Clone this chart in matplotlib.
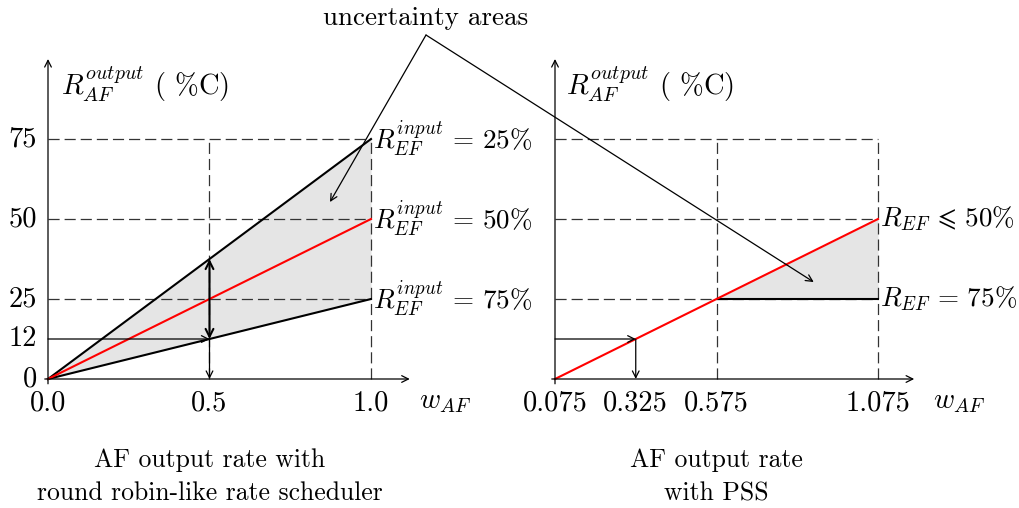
import matplotlib
matplotlib.use('Agg')
import numpy as np
import matplotlib.pyplot as plt

plt.rcParams['mathtext.fontset'] = 'cm'
plt.rcParams['font.family'] = ['cmr10', 'DejaVu Serif']
plt.rcParams['axes.unicode_minus'] = False
plt.rcParams['lines.scale_dashes'] = False

# left panel: round robin-like scheduler
left_w = [0.0, 1.0]
left_upper = [0.0, 75.0]
left_mid = [0.0, 50.0]
left_lower = [0.0, 25.0]
left_xticks = [0.0, 0.5, 1.0]
left_xlabels = ['0.0', '0.5', '1.0']
yticks = [0.0, 12.5, 25.0, 50.0, 75.0]
ylabels = ['0', '12', '25', '50', '75']
left_line_labels = [r'$R_{EF}^{input}\,=\,25\%$', r'$R_{EF}^{input}\,=\,50\%$',
                    r'$R_{EF}^{input}\,=\,75\%$']
left_mark_w = 0.5
left_mark_hi = 37.5
left_mark_lo = 12.5

# right panel: PSS
right_w = [0.075, 1.075]
right_red = [0.0, 50.0]
right_flat_w = [0.575, 1.075]
right_flat = [25.0, 25.0]
right_xticks = [0.075, 0.325, 0.575, 1.075]
right_xlabels = ['0.075', '0.325', '0.575', '1.075']
right_line_labels = [r'$R_{EF}\,\leqslant\,50\%$', r'$R_{EF}\,=\,75\%$']
right_mark_w = 0.325
right_mark_r = 12.5

FS = 20.5
LAB = 19.5
CAP = 18.5
W, H = 1020, 508
fig = plt.figure(figsize=(W / 100, H / 100), dpi=100)

px_y = 3.2      # pixels per %
px_x = 323.0    # pixels per unit of w


def make_axes(left_px, width_px, x0_px, x0_val):
    ax = fig.add_axes([left_px / W, 0, width_px / W, 1])
    ax.axis('off')
    ax.set_xlim(x0_val + (left_px - x0_px) / px_x,
                x0_val + (left_px + width_px - x0_px) / px_x)
    ax.set_ylim(-(H - 379) / px_y, 379 / px_y)
    return ax


def draw_frame(ax, xmin, xmax, ylabel_x, xlabel_x):
    arr = dict(arrowstyle='->', lw=0.9, color='k', mutation_scale=12,
               shrinkA=0, shrinkB=0)
    ax.annotate('', xy=(xmax, 0), xytext=(xmin - 0.01, 0), arrowprops=arr)
    ax.annotate('', xy=(xmin, 100), xytext=(xmin, -1.5), arrowprops=arr)
    ax.text(ylabel_x, 92, r'$R_{AF}^{output}$ ( %C)', fontsize=FS,
            ha='left', va='center')
    ax.text(xlabel_x, -7, r'$w_{AF}$', fontsize=FS, ha='center', va='center')


dash = dict(color='#333333', lw=0.9, dashes=(8, 3.6))

# ---- left
ax1 = make_axes(0, 510, 48, 0.0)
ax1.fill_between(left_w, left_lower, left_upper, color='#e5e5e5', lw=0)
for yv in [25, 50, 75]:
    ax1.plot([0, 1.0], [yv, yv], **dash)
for xv in [0.5, 1.0]:
    ax1.plot([xv, xv], [0, 75], **dash)
ax1.plot(left_w, left_upper, color='k', lw=1.5)
ax1.plot(left_w, left_lower, color='k', lw=1.5)
ax1.plot(left_w, left_mid, color='#ff0000', lw=1.5)
thin = dict(arrowstyle='->', lw=0.9, color='k', mutation_scale=12,
            shrinkA=0, shrinkB=0)
ax1.annotate('', xy=(left_mark_w, left_mark_lo), xytext=(0, left_mark_lo),
             arrowprops=thin)
ax1.annotate('', xy=(left_mark_w, 0), xytext=(left_mark_w, left_mark_lo),
             arrowprops=thin)
ax1.annotate('', xy=(left_mark_w, left_mark_hi),
             xytext=(left_mark_w, left_mark_lo),
             arrowprops=dict(arrowstyle='<->', lw=1.5, color='k',
                             mutation_scale=14, shrinkA=0, shrinkB=0))
draw_frame(ax1, 0.0, 1.12, 0.04, 1.23)
for yv, lab in zip(yticks, ylabels):
    ax1.text(-0.033, yv, lab, fontsize=FS, ha='right', va='center')
for xv, lab in zip(left_xticks, left_xlabels):
    ax1.text(xv, -7.5, lab, fontsize=FS, ha='center', va='center')
for yv, lab in zip([75, 50, 25], left_line_labels):
    ax1.text(1.005, yv, lab, fontsize=LAB, ha='left', va='center')
ax1.text(0.5, -30.5, 'AF output rate with\nround robin-like rate scheduler',
         fontsize=CAP, ha='center', va='center', linespacing=1.5)

# ---- right
ax2 = make_axes(510, 510, 555, 0.075)
ax2.fill_between(right_flat_w, right_flat,
                 np.interp(right_flat_w, right_w, right_red),
                 color='#e5e5e5', lw=0)
for yv in [25, 50, 75]:
    ax2.plot([0.075, 1.075], [yv, yv], **dash)
for xv in [0.575, 1.075]:
    ax2.plot([xv, xv], [0, 75], **dash)
ax2.plot(right_flat_w, right_flat, color='k', lw=1.5)
ax2.plot(right_w, right_red, color='#ff0000', lw=1.5)
ax2.annotate('', xy=(right_mark_w, right_mark_r), xytext=(0.075, right_mark_r),
             arrowprops=thin)
ax2.annotate('', xy=(right_mark_w, 0), xytext=(right_mark_w, right_mark_r),
             arrowprops=thin)
draw_frame(ax2, 0.075, 1.187, 0.11, 1.325)
for xv, lab in zip(right_xticks, right_xlabels):
    ax2.text(xv, -7.5, lab, fontsize=FS, ha='center', va='center')
for yv, lab in zip([50, 25], right_line_labels):
    ax2.text(1.082, yv, lab, fontsize=LAB, ha='left', va='center')
ax2.text(0.575, -30.5, 'AF output rate\nwith PSS',
         fontsize=CAP, ha='center', va='center', linespacing=1.5)

# ---- shared callout
fig.text(426 / W, 1 - 18 / H, 'uncertainty areas', fontsize=19.5,
         ha='center', va='center')
apex = (426, H - 35)
for ax, tip in [(ax1, (0.873, 55.3)), (ax2, (0.876, 30.3))]:
    ax.annotate('', xy=tip, xycoords='data', xytext=apex,
                textcoords='figure pixels',
                arrowprops=dict(arrowstyle='->', lw=0.9, color='k',
                                mutation_scale=12, shrinkA=0, shrinkB=0),
                annotation_clip=False)

fig.savefig('out.png', dpi=100)
